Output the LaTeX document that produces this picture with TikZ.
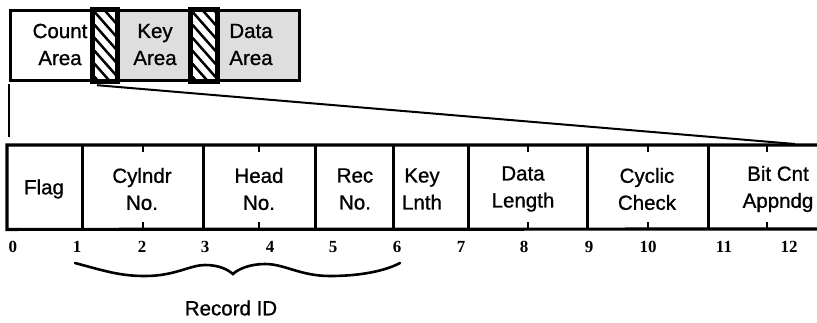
\documentclass[tikz,border=0pt]{standalone}
\usepackage{fontspec}
\setmainfont{Liberation Sans}
\newfontfamily\lblfont[FakeBold=0.9]{Liberation Sans}
\newfontfamily\numfont{Liberation Serif}
\usetikzlibrary{calc}
\begin{document}
\begin{tikzpicture}[x=1pt,y=-1pt,
  frame/.style={line width=3.2pt},
  thinline/.style={line width=2pt},
  ticks/.style={line width=2.2pt},
  hatchline/.style={line width=2.5pt},
  box/.style={draw,line width=3.2pt,anchor=north west,inner sep=0pt,minimum height=70pt},
  cellbox/.style={anchor=north west,inner sep=0pt,minimum height=84pt},
  lbl/.style={font=\lblfont\fontsize{20.5}{27}\selectfont,align=center,inner sep=0pt},
  num/.style={font=\numfont\bfseries\fontsize{17}{17}\selectfont,inner sep=0pt},
  dotfill/.style={fill=black!13}
]
\useasboundingbox (0,0) rectangle (817,322);

% ---- top: count / key / data areas
\node[box,minimum width=83pt] (cnt) at (9,9) {};
\node[box,minimum width=23pt] (h1) at (92,9) {};
\node[box,dotfill,minimum width=75pt] (key) at (115,9) {};
\node[box,minimum width=25pt] (h2) at (190,9) {};
\node[box,dotfill,minimum width=83pt] (dat) at (215,9) {};
\foreach \h in {h1,h2}{
  \begin{scope}
    \clip (\h.north west) rectangle (\h.south east);
    \foreach \k in {-4,...,7}
      \draw[hatchline] ($(\h.north west)+(0,\k*13)$) -- ++(30,34);
  \end{scope}
  \draw[frame] (\h.north west) rectangle (\h.south east);
}
\node[lbl] (cntl) at (60,44.5) {Count\\Area};
\node[lbl] (keyl) at (155,44.5) {Key\\Area};
\node[lbl] (datl) at (251,44.5) {Data\\Area};

% ---- expansion lines
\coordinate (vtop) at (9,84);
\coordinate (vbot) at (9,137);
\draw[thinline] (vtop) -- (vbot);
\coordinate (dstart) at ($(h1.south west)+(5,3)$);
\coordinate (dend) at (795,144);
\draw[thinline] (dstart) -- (dend);

% ---- record fields
\node[cellbox,minimum width=75pt] (flag) at (7,145) {};
\node[cellbox,minimum width=121pt] (cyl) at (82,145) {};
\node[cellbox,minimum width=112pt] (head) at (203,145) {};
\node[cellbox,minimum width=78pt] (rec) at (315,145) {};
\node[cellbox,minimum width=75pt] (kl) at (393,145) {};
\node[cellbox,minimum width=119pt] (dl) at (468,145) {};
\node[cellbox,minimum width=121pt] (cc) at (587,145) {};
\node[cellbox,minimum width=118pt] (bc) at (708,145) {};
\coordinate (rtop) at (817,145);
\coordinate (rbot) at (817,229);
\draw[frame] (rtop) -- (flag.north west) -- (flag.south west) -- (rbot);
\foreach \c in {flag,cyl,head,rec,kl,dl,cc}
  \draw[frame] (\c.north east) -- (\c.south east);
\foreach \c in {cyl,head,dl,cc,bc}{
  \draw[ticks] (\c.north) -- ++(0,7);
  \draw[ticks] (\c.south) -- ++(0,-7);
}

\node[lbl] (flagl) at (44,189) {Flag};
\node[lbl] (cyll) at (142,189) {Cylndr\\No.};
\node[lbl] (headl) at (259,189) {Head\\No.};
\node[lbl] (recl) at (355,189) {Rec\\No.};
\node[lbl] (kll) at (422,189) {Key\\Lnth};
\node[lbl] (dll) at (523,189) {Data\\Length};
\node[lbl] (ccl) at (647,189) {Cyclic\\Check};
\node[lbl] (bcl) at (778,189) {Bit Cnt\\Appndg};

% ---- byte numbers
\foreach \n/\x in {0/13,1/77,2/142,3/205,4/270,5/333,6/397,7/461,8/524,9/589,10/648,11/724,12/789}
  \node[num] (n\n) at (\x,247) {\n};

% ---- brace
\coordinate (bl) at (75,263);
\coordinate (btip) at (233,274);
\coordinate (br) at (400,263);
\draw[line width=2.6pt,line cap=round,line join=miter]
  (bl) .. controls (105,271) and (120,276) .. (145,276)
       .. controls (175,276) and (190,265) .. (205,265)
       .. controls (220,265) and (228,270) .. (btip)
       .. controls (238,269) and (250,264) .. (265,264)
       .. controls (285,264) and (300,276) .. (330,276)
       .. controls (360,276) and (385,271) .. (br);
\node[lbl] (rid) at (231,308) {Record ID};
\end{tikzpicture}
\end{document}
